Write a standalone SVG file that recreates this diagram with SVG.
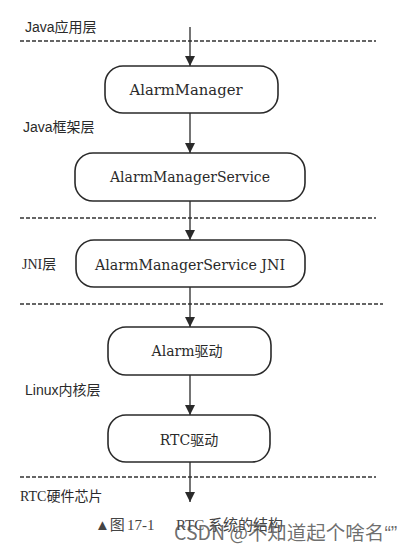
<svg xmlns="http://www.w3.org/2000/svg" width="414" height="551" viewBox="0 0 414 551">
<defs>
<style>
.bg{fill:#ffffff}
.box{fill:#ffffff;stroke:#2a2a2a;stroke-width:1.6}
.sep{stroke:#333333;stroke-width:1.4;stroke-dasharray:4 2;fill:none}
.conn{stroke:#2a2a2a;stroke-width:1.3;fill:none}
.node{font-family:"DejaVu Serif","Liberation Serif","Noto Sans CJK SC",serif;font-size:14px;fill:#2a2a2a;text-anchor:middle}
.layer{font-family:"Liberation Sans","Noto Sans CJK SC",sans-serif;font-size:14px;fill:#2a2a2a}
.layers{font-family:"Liberation Serif","Noto Sans CJK SC",serif;font-size:14px;fill:#2a2a2a}
.cap{font-family:"Liberation Serif","Noto Sans CJK SC",serif;font-size:15px;fill:#444444}
.wm{font-family:"Noto Sans CJK SC",sans-serif;font-size:19.5px;fill:#555555;fill-opacity:0.85}
.q{font-family:"Liberation Sans",sans-serif}
</style>
<marker id="ah" viewBox="0 0 10 12" refX="10" refY="6" markerWidth="10" markerHeight="12" markerUnits="userSpaceOnUse" orient="auto">
<path d="M0,1 L10,6 L0,11 Z" fill="#2a2a2a"/>
</marker>
</defs>
<rect class="bg" x="0" y="0" width="414" height="551"/>

<g id="separators">
<line class="sep" x1="20" y1="41" x2="376" y2="41"/>
<line class="sep" x1="20" y1="218" x2="376" y2="218"/>
<line class="sep" x1="20" y1="304" x2="383" y2="304"/>
<line class="sep" x1="20" y1="477" x2="376" y2="477"/>
</g>

<g id="layer-labels">
<text class="layer" x="25" y="32">Java应用层</text>
<text class="layer" x="23" y="132">Java框架层</text>
<text class="layers" x="22" y="269">JNI层</text>
<text class="layer" x="25" y="395">Linux内核层</text>
<text class="layers" x="20" y="501">RTC硬件芯片</text>
</g>

<g id="connectors">
<line class="conn" x1="190" y1="27" x2="190" y2="66" marker-end="url(#ah)"/>
<line class="conn" x1="190" y1="113" x2="190" y2="153" marker-end="url(#ah)"/>
<line class="conn" x1="190" y1="201" x2="190" y2="240" marker-end="url(#ah)"/>
<line class="conn" x1="190" y1="287" x2="190" y2="327" marker-end="url(#ah)"/>
<line class="conn" x1="190" y1="375" x2="190" y2="415" marker-end="url(#ah)"/>
<line class="conn" x1="190" y1="462" x2="190" y2="502" marker-end="url(#ah)"/>
</g>

<g id="alarm-manager">
<rect class="box" x="105" y="66" width="173" height="47" rx="18"/>
<text class="node" x="186" y="95" textLength="113" lengthAdjust="spacingAndGlyphs">AlarmManager</text>
</g>

<g id="alarm-manager-service">
<rect class="box" x="75" y="153" width="230" height="48" rx="18"/>
<text class="node" x="190" y="182" textLength="160" lengthAdjust="spacingAndGlyphs">AlarmManagerService</text>
</g>

<g id="alarm-manager-service-jni">
<rect class="box" x="76" y="240" width="229" height="47" rx="18"/>
<text class="node" x="190" y="270" textLength="190" lengthAdjust="spacingAndGlyphs">AlarmManagerService JNI</text>
</g>

<g id="alarm-driver">
<rect class="box" x="108" y="327" width="163" height="48" rx="18"/>
<text class="node" x="187" y="356">Alarm驱动</text>
</g>

<g id="rtc-driver">
<rect class="box" x="108" y="415" width="162" height="47" rx="18"/>
<text class="node" x="189" y="445">RTC驱动</text>
</g>

<g id="caption">
<text class="cap" y="530"><tspan x="95">▲图</tspan><tspan x="127">17-1</tspan><tspan x="176">RTC 系统的结构</tspan></text>
<text class="wm" x="174" y="540">CSDN @不知道起个啥名<tspan class="q">“”</tspan></text>
</g>
</svg>
